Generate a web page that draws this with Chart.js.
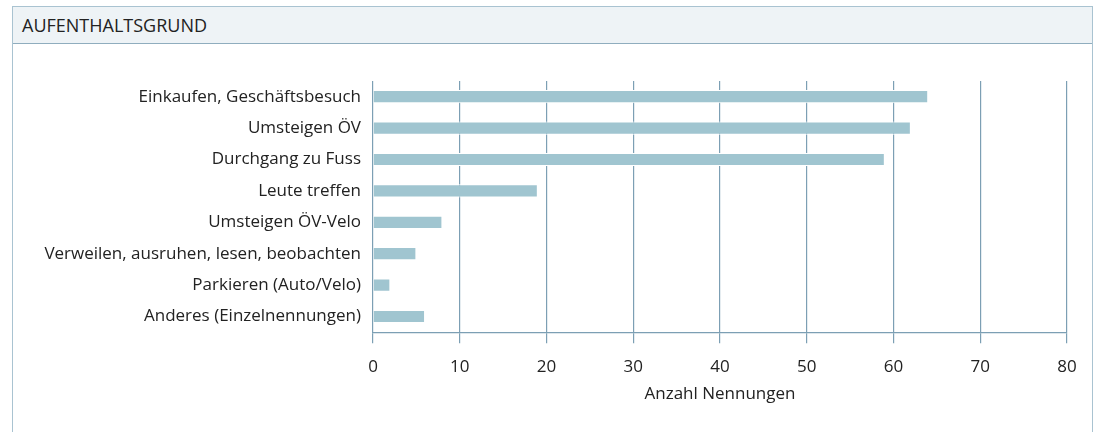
<!DOCTYPE html>
<html>
<head>
<meta charset="utf-8">
<script src="https://cdn.jsdelivr.net/npm/chart.js@4/dist/chart.umd.min.js"></script>
<style>
  html, body { margin: 0; padding: 0; background: #fff; }
  body { width: 1098px; height: 432px; position: relative; overflow: hidden; font-family: "Open Sans", sans-serif; }
  #box { position: absolute; left: 12px; top: 6px; width: 1081px; height: 440px; border: 1.5px solid #a9c3d1; box-sizing: border-box; }
  #head { position: absolute; left: 0; top: 0; right: 0; height: 37px; background: #eef3f6; border-bottom: 1.5px solid #8fadbe; box-sizing: border-box; }
  #title { position: absolute; left: 9px; top: 6px; font-size: 18px; color: #222; }
  #wrap { position: absolute; left: 0; top: 0; width: 1098px; height: 432px; }
</style>
</head>
<body>
<div id="box"><div id="head"><div id="title">AUFENTHALTSGRUND</div></div></div>
<div id="wrap"><canvas id="c" width="1098" height="432"></canvas></div>
<script>
const categories = [
  "Einkaufen, Geschäftsbesuch",
  "Umsteigen ÖV",
  "Durchgang zu Fuss",
  "Leute treffen",
  "Umsteigen ÖV-Velo",
  "Verweilen, ausruhen, lesen, beobachten",
  "Parkieren (Auto/Velo)",
  "Anderes (Einzelnennungen)"
];
const values = [64, 62, 59, 19, 8, 5, 2, 6];
const xTicks = [0, 10, 20, 30, 40, 50, 60, 70, 80];
const xTitle = "Anzahl Nennungen";

const gridColor = "#7c9fb4";
new Chart(document.getElementById("c"), {
  type: "bar",
  data: {
    labels: categories,
    datasets: [{
      data: values,
      backgroundColor: "#a0c5d0",
      borderColor: "#ffffff",
      borderWidth: 1,
      borderSkipped: "start",
      barPercentage: 0.42,
      categoryPercentage: 1.0
    }]
  },
  options: {
    indexAxis: "y",
    responsive: false,
    animation: false,
    layout: { padding: { left: 0, right: 31, top: 81, bottom: 15 } },
    plugins: { legend: { display: false }, tooltip: { enabled: false } },
    scales: {
      x: {
        min: xTicks[0],
        max: xTicks[xTicks.length - 1],
        afterBuildTicks: (s) => { s.ticks = xTicks.map(v => ({ value: v })); },
        grid: { color: gridColor, lineWidth: 1.2, tickLength: 11, drawTicks: true },
        border: { display: true, color: gridColor, width: 1.2 },
        ticks: { color: "#222", font: { family: "Open Sans", size: 17 }, padding: 14 },
        title: { display: true, text: xTitle, color: "#222", font: { family: "Open Sans", size: 17 }, padding: { top: -8, bottom: 13 } }
      },
      y: {
        afterFit: (s) => { s.width = 373; },
        grid: { display: false, drawTicks: false },
        border: { display: false },
        ticks: { color: "#222", font: { family: "Open Sans", size: 17 }, padding: 12 }
      }
    }
  }
});
</script>
</body>
</html>
